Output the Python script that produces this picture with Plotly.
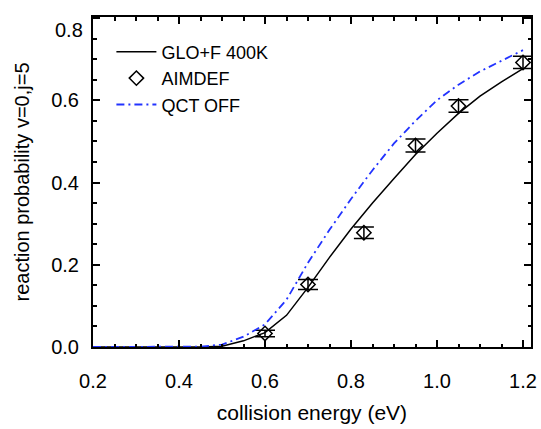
import plotly.graph_objects as go

# Model curves
energy_curve = [0.2, 0.3, 0.4, 0.45, 0.5, 0.55, 0.6, 0.65, 0.7, 0.75, 0.8, 0.85, 0.9, 0.95, 1.0, 1.05, 1.1, 1.15, 1.2]
glo_f_400k = [0.0, 0.0, 0.0, 0.0, 0.002, 0.015, 0.035, 0.077, 0.145, 0.218, 0.287, 0.35, 0.41, 0.468, 0.52, 0.568, 0.61, 0.645, 0.677]
qct_off = [0.0, 0.0, 0.0, 0.001, 0.006, 0.025, 0.055, 0.115, 0.205, 0.285, 0.36, 0.43, 0.495, 0.55, 0.6, 0.638, 0.67, 0.697, 0.722]

# AIMDEF points
energy_aimdef = [0.6, 0.7, 0.83, 0.95, 1.05, 1.2]
prob_aimdef = [0.033, 0.152, 0.278, 0.49, 0.586, 0.692]
err_aimdef = [0.008, 0.012, 0.014, 0.016, 0.015, 0.015]

# Axis ticks
x_ticks = [0.2, 0.4, 0.6, 0.8, 1.0, 1.2]
x_ticktext = ["0.2", "0.4", "0.6", "0.8", "1.0", "1.2"]
y_ticks = [0.0, 0.2, 0.4, 0.6, 0.8]
y_ticktext = ["0.0", "0.2", "0.4", "0.6", ""]

FONT = "Liberation Sans, Arial, Helvetica, sans-serif"

fig = go.Figure()
fig.add_trace(go.Scatter(x=energy_curve, y=glo_f_400k, mode="lines", name="GLO+F 400K",
                         line=dict(color="black", width=1.5)))
fig.add_trace(go.Scatter(x=energy_aimdef, y=prob_aimdef, mode="markers", name="AIMDEF",
                         marker=dict(symbol="diamond-open", size=11, color="black", line=dict(width=1.5, color="black")),
                         error_y=dict(type="data", array=err_aimdef, visible=True, color="black", thickness=1.5, width=10)))
fig.add_trace(go.Scatter(x=energy_curve, y=qct_off, mode="lines", name="QCT OFF",
                         line=dict(color="#2233ff", width=1.8, dash="8px,4px,2px,4px")))

fig.update_layout(
    width=541, height=429,
    margin=dict(l=93, r=10, t=17, b=82, autoexpand=False),
    paper_bgcolor="white", plot_bgcolor="white",
    font=dict(family=FONT, size=20, color="black"),
    showlegend=True,
    legend=dict(x=0.042, y=0.95, xanchor="left", yanchor="top", bgcolor="rgba(0,0,0,0)",
                font=dict(size=18, family=FONT), tracegroupgap=0, itemwidth=40),
)
fig.update_xaxes(
    range=[0.2, 1.2186], tickvals=x_ticks, ticktext=x_ticktext, automargin=False,
    showline=True, linecolor="black", linewidth=2, mirror="allticks",
    ticks="inside", ticklen=7, tickwidth=1.5, tickcolor="black",
    minor=dict(dtick=0.05, tick0=0.2, ticks="inside", ticklen=3.5, tickwidth=1.5, tickcolor="black"),
    showgrid=False, zeroline=False, ticklabelstandoff=15,
    title=dict(text="collision energy (eV)", font=dict(size=21), standoff=14),
)
fig.update_yaxes(
    range=[0, 0.8025], tickvals=y_ticks, ticktext=y_ticktext, automargin=False,
    showline=True, linecolor="black", linewidth=2, mirror="allticks",
    ticks="inside", ticklen=7, tickwidth=1.5, tickcolor="black",
    minor=dict(dtick=0.05, tick0=0, ticks="inside", ticklen=3.5, tickwidth=1.5, tickcolor="black"),
    showgrid=False, zeroline=False, ticklabelstandoff=8,
    title=dict(text="reaction probability v=0,j=5", font=dict(size=20), standoff=16),
)
fig.add_annotation(text="0.8", xref="paper", yref="y", x=0, y=0.8, xanchor="right", yanchor="middle",
                   xshift=-8, yshift=-12, showarrow=False, font=dict(size=20, family=FONT))

fig.write_html("out.html")
